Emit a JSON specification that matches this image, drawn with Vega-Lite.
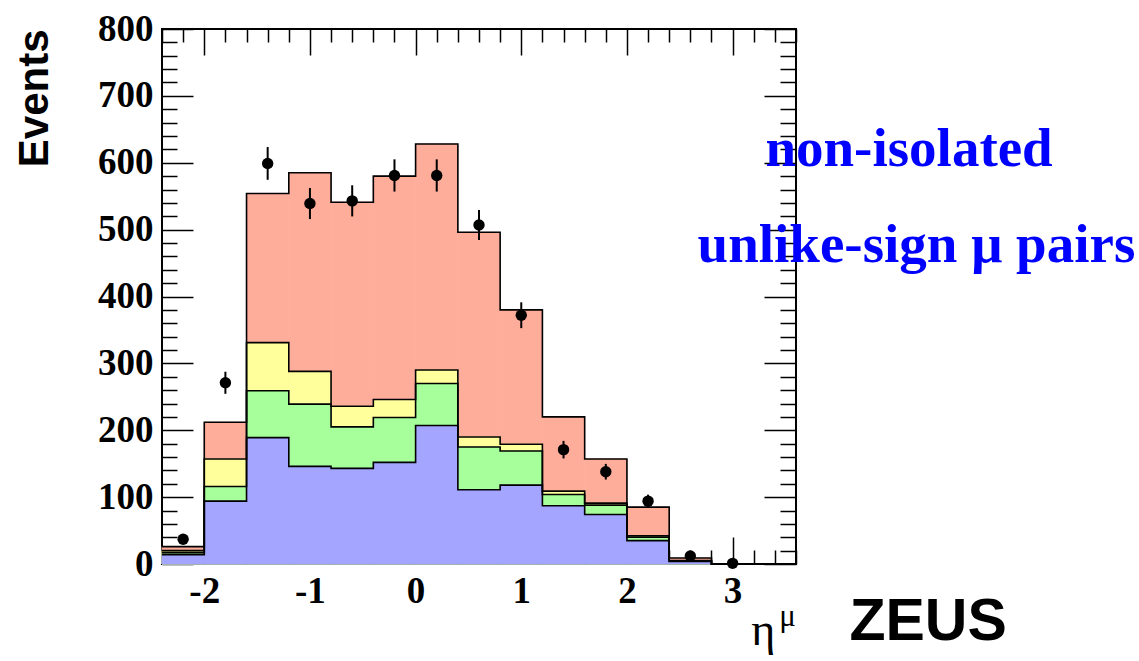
{
  "$schema": "https://vega.github.io/schema/vega-lite/v6.json",
  "width": 634,
  "height": 535,
  "autosize": {"type": "none"},
  "padding": {"left": 162, "top": 29, "right": 343, "bottom": 97},
  "background": "white",
  "config": {
    "view": {"stroke": "#000", "strokeWidth": 2},
    "axis": {
      "grid": false,
      "domain": false,
      "tickColor": "#000",
      "tickWidth": 1.5,
      "labelFont": "Liberation Serif",
      "labelFontWeight": "bold",
      "labelFontSize": 37,
      "labelColor": "#000",
      "labelOverlap": false,
      "labelFlush": false,
      "labelBound": false
    }
  },
  "datasets": {
    "hist": [
      {"comp": "other", "lo": -2.4, "hi": -2.0, "top": 26},
      {"comp": "other", "lo": -2.0, "hi": -1.6, "top": 212},
      {"comp": "other", "lo": -1.6, "hi": -1.2, "top": 554},
      {"comp": "other", "lo": -1.2, "hi": -0.8, "top": 585},
      {"comp": "other", "lo": -0.8, "hi": -0.4, "top": 541},
      {"comp": "other", "lo": -0.4, "hi": 0.0, "top": 580},
      {"comp": "other", "lo": 0.0, "hi": 0.4, "top": 628},
      {"comp": "other", "lo": 0.4, "hi": 0.8, "top": 496},
      {"comp": "other", "lo": 0.8, "hi": 1.2, "top": 380},
      {"comp": "other", "lo": 1.2, "hi": 1.6, "top": 220},
      {"comp": "other", "lo": 1.6, "hi": 2.0, "top": 157},
      {"comp": "other", "lo": 2.0, "hi": 2.4, "top": 85},
      {"comp": "other", "lo": 2.4, "hi": 2.8, "top": 9},
      {"comp": "other", "lo": 2.8, "hi": 3.2, "top": 0},
      {"comp": "other", "lo": 3.2, "hi": 3.6, "top": 0},
      {"comp": "other", "lo": 3.6, "hi": 3.6, "top": 0},
      {"comp": "c2", "lo": -2.4, "hi": -2.0, "top": 20},
      {"comp": "c2", "lo": -2.0, "hi": -1.6, "top": 157},
      {"comp": "c2", "lo": -1.6, "hi": -1.2, "top": 331},
      {"comp": "c2", "lo": -1.2, "hi": -0.8, "top": 288},
      {"comp": "c2", "lo": -0.8, "hi": -0.4, "top": 236},
      {"comp": "c2", "lo": -0.4, "hi": 0.0, "top": 246},
      {"comp": "c2", "lo": 0.0, "hi": 0.4, "top": 290},
      {"comp": "c2", "lo": 0.4, "hi": 0.8, "top": 190},
      {"comp": "c2", "lo": 0.8, "hi": 1.2, "top": 179},
      {"comp": "c2", "lo": 1.2, "hi": 1.6, "top": 109},
      {"comp": "c2", "lo": 1.6, "hi": 2.0, "top": 91},
      {"comp": "c2", "lo": 2.0, "hi": 2.4, "top": 42},
      {"comp": "c2", "lo": 2.4, "hi": 2.8, "top": 5},
      {"comp": "c2", "lo": 2.8, "hi": 3.2, "top": 0},
      {"comp": "c2", "lo": 3.2, "hi": 3.6, "top": 0},
      {"comp": "c2", "lo": 3.6, "hi": 3.6, "top": 0},
      {"comp": "c3", "lo": -2.4, "hi": -2.0, "top": 17},
      {"comp": "c3", "lo": -2.0, "hi": -1.6, "top": 116},
      {"comp": "c3", "lo": -1.6, "hi": -1.2, "top": 259},
      {"comp": "c3", "lo": -1.2, "hi": -0.8, "top": 239},
      {"comp": "c3", "lo": -0.8, "hi": -0.4, "top": 205},
      {"comp": "c3", "lo": -0.4, "hi": 0.0, "top": 219},
      {"comp": "c3", "lo": 0.0, "hi": 0.4, "top": 270},
      {"comp": "c3", "lo": 0.4, "hi": 0.8, "top": 175},
      {"comp": "c3", "lo": 0.8, "hi": 1.2, "top": 169},
      {"comp": "c3", "lo": 1.2, "hi": 1.6, "top": 104},
      {"comp": "c3", "lo": 1.6, "hi": 2.0, "top": 88},
      {"comp": "c3", "lo": 2.0, "hi": 2.4, "top": 40},
      {"comp": "c3", "lo": 2.4, "hi": 2.8, "top": 4.5},
      {"comp": "c3", "lo": 2.8, "hi": 3.2, "top": 0},
      {"comp": "c3", "lo": 3.2, "hi": 3.6, "top": 0},
      {"comp": "c3", "lo": 3.6, "hi": 3.6, "top": 0},
      {"comp": "c4", "lo": -2.4, "hi": -2.0, "top": 14},
      {"comp": "c4", "lo": -2.0, "hi": -1.6, "top": 94},
      {"comp": "c4", "lo": -1.6, "hi": -1.2, "top": 189},
      {"comp": "c4", "lo": -1.2, "hi": -0.8, "top": 146},
      {"comp": "c4", "lo": -0.8, "hi": -0.4, "top": 143},
      {"comp": "c4", "lo": -0.4, "hi": 0.0, "top": 152},
      {"comp": "c4", "lo": 0.0, "hi": 0.4, "top": 207},
      {"comp": "c4", "lo": 0.4, "hi": 0.8, "top": 111},
      {"comp": "c4", "lo": 0.8, "hi": 1.2, "top": 118},
      {"comp": "c4", "lo": 1.2, "hi": 1.6, "top": 87},
      {"comp": "c4", "lo": 1.6, "hi": 2.0, "top": 74},
      {"comp": "c4", "lo": 2.0, "hi": 2.4, "top": 35},
      {"comp": "c4", "lo": 2.4, "hi": 2.8, "top": 4},
      {"comp": "c4", "lo": 2.8, "hi": 3.2, "top": 0},
      {"comp": "c4", "lo": 3.2, "hi": 3.6, "top": 0},
      {"comp": "c4", "lo": 3.6, "hi": 3.6, "top": 0}
    ],
    "points": [
      {"eta": -2.2, "n": 37, "lo": 31, "hi": 43},
      {"eta": -1.8, "n": 271, "lo": 254.5, "hi": 287.5},
      {"eta": -1.4, "n": 599, "lo": 574.5, "hi": 623.5},
      {"eta": -1.0, "n": 539, "lo": 515.8, "hi": 562.2},
      {"eta": -0.6, "n": 543, "lo": 519.7, "hi": 566.3},
      {"eta": -0.2, "n": 581, "lo": 556.9, "hi": 605.1},
      {"eta": 0.2, "n": 581, "lo": 556.9, "hi": 605.1},
      {"eta": 0.6, "n": 507, "lo": 484.5, "hi": 529.5},
      {"eta": 1.0, "n": 372, "lo": 352.7, "hi": 391.3},
      {"eta": 1.4, "n": 171, "lo": 157.9, "hi": 184.1},
      {"eta": 1.8, "n": 138, "lo": 126.3, "hi": 149.7},
      {"eta": 2.2, "n": 94, "lo": 84.3, "hi": 103.7},
      {"eta": 2.6, "n": 12, "lo": 8.5, "hi": 15.5},
      {"eta": 3.0, "n": 1, "lo": 0, "hi": 2}
    ],
    "blueText": [
      {"label": "non-isolated", "ex": 4.67, "ey": 595},
      {"label": "unlike-sign μ pairs", "ex": 4.74, "ey": 452}
    ],
    "zeus": [
      {"label": "ZEUS", "ex": 4.85, "ey": -114}
    ],
    "etaTitle": [
      {"label": "η", "ex": 3.29, "ey": -121}
    ],
    "etaSup": [
      {"label": "μ", "ex": 3.52, "ey": -92}
    ]
  },
  "layer": [
    {
      "data": {"name": "hist"},
      "mark": {"type": "rect", "strokeWidth": 0.8},
      "encoding": {
        "x": {
          "field": "lo", "type": "quantitative",
          "scale": {"domain": [-2.4, 3.6], "nice": false, "zero": false},
          "axis": {
            "orient": "bottom",
            "title": null,
            "values": [-2.4, -2.2, -2.0, -1.8, -1.6, -1.4, -1.2, -1.0, -0.8, -0.6, -0.4, -0.2, 0, 0.2, 0.4, 0.6, 0.8, 1.0, 1.2, 1.4, 1.6, 1.8, 2.0, 2.2, 2.4, 2.6, 2.8, 3.0, 3.2, 3.4, 3.6],
            "tickSize": {"condition": {"test": "abs(datum.value - round(datum.value)) < 0.001", "value": -27}, "value": -14},
            "labelPadding": 36,
            "labelExpr": "abs(datum.value - round(datum.value)) < 0.001 ? '' + round(datum.value) : ''"
          }
        },
        "x2": {"field": "hi"},
        "y": {
          "field": "top", "type": "quantitative",
          "scale": {"domain": [0, 800], "nice": false},
          "axis": {
            "orient": "left",
            "values": [0, 20, 40, 60, 80, 100, 120, 140, 160, 180, 200, 220, 240, 260, 280, 300, 320, 340, 360, 380, 400, 420, 440, 460, 480, 500, 520, 540, 560, 580, 600, 620, 640, 660, 680, 700, 720, 740, 760, 780, 800],
            "tickSize": {"condition": {"test": "datum.value % 100 === 0", "value": -31}, "value": -15},
            "labelPadding": 40,
            "labelExpr": "datum.value % 100 === 0 ? '' + datum.value : ''",
            "title": "Events",
            "titleFont": "Liberation Sans",
            "titleFontWeight": "bold",
            "titleFontSize": 42,
            "titleColor": "#000",
            "titleAngle": -90,
            "titleAlign": "right",
            "titleBaseline": "alphabetic",
            "titleX": -115,
            "titleY": 0
          }
        },
        "y2": {"datum": 0},
        "color": {
          "field": "comp", "type": "nominal",
          "scale": {"domain": ["other", "c2", "c3", "c4"], "range": ["#FFAD9B", "#FFFF9C", "#A6FF9A", "#A3A5FF"]},
          "legend": null
        },
        "stroke": {
          "field": "comp", "type": "nominal",
          "scale": {"domain": ["other", "c2", "c3", "c4"], "range": ["#FFAD9B", "#FFFF9C", "#A6FF9A", "#A3A5FF"]},
          "legend": null
        }
      }
    },
    {
      "data": {"name": "hist"},
      "mark": {"type": "line", "interpolate": "step-after", "color": "#000", "strokeWidth": 1.6},
      "encoding": {
        "x": {
          "field": "lo", "type": "quantitative",
          "scale": {"domain": [-2.4, 3.6], "nice": false, "zero": false},
          "axis": {
            "orient": "top",
            "title": null,
            "labels": false,
            "values": [-2.4, -2.2, -2.0, -1.8, -1.6, -1.4, -1.2, -1.0, -0.8, -0.6, -0.4, -0.2, 0, 0.2, 0.4, 0.6, 0.8, 1.0, 1.2, 1.4, 1.6, 1.8, 2.0, 2.2, 2.4, 2.6, 2.8, 3.0, 3.2, 3.4, 3.6],
            "tickSize": {"condition": {"test": "abs(datum.value - round(datum.value)) < 0.001", "value": -26}, "value": -13}
          }
        },
        "y": {
          "field": "top", "type": "quantitative",
          "scale": {"domain": [0, 800], "nice": false},
          "axis": {
            "orient": "right",
            "title": null,
            "labels": false,
            "values": [0, 20, 40, 60, 80, 100, 120, 140, 160, 180, 200, 220, 240, 260, 280, 300, 320, 340, 360, 380, 400, 420, 440, 460, 480, 500, 520, 540, 560, 580, 600, 620, 640, 660, 680, 700, 720, 740, 760, 780, 800],
            "tickSize": {"condition": {"test": "datum.value % 100 === 0", "value": -32}, "value": -16}
          }
        },
        "detail": {"field": "comp"}
      }
    },
    {
      "data": {"name": "points"},
      "mark": {"type": "rule", "color": "#000", "strokeWidth": 2},
      "encoding": {
        "x": {"field": "eta", "type": "quantitative", "axis": null},
        "y": {"field": "lo", "type": "quantitative", "axis": null},
        "y2": {"field": "hi"}
      }
    },
    {
      "data": {"name": "points"},
      "mark": {"type": "circle", "color": "#000", "opacity": 1, "size": 130},
      "encoding": {
        "x": {"field": "eta", "type": "quantitative", "axis": null},
        "y": {"field": "n", "type": "quantitative", "axis": null}
      }
    },
    {
      "data": {"name": "blueText"},
      "mark": {"type": "text", "font": "Liberation Serif", "fontWeight": "bold", "fontSize": 55, "color": "#0000FF", "align": "center", "baseline": "alphabetic", "clip": false},
      "encoding": {
        "x": {"field": "ex", "type": "quantitative", "axis": null},
        "y": {"field": "ey", "type": "quantitative", "axis": null},
        "text": {"field": "label"}
      }
    },
    {
      "data": {"name": "zeus"},
      "mark": {"type": "text", "font": "Liberation Sans", "fontWeight": "bold", "fontSize": 59, "color": "#000", "align": "center", "baseline": "alphabetic", "clip": false},
      "encoding": {
        "x": {"field": "ex", "type": "quantitative", "axis": null},
        "y": {"field": "ey", "type": "quantitative", "axis": null},
        "text": {"field": "label"}
      }
    },
    {
      "data": {"name": "etaTitle"},
      "mark": {"type": "text", "font": "Liberation Serif", "fontSize": 46, "color": "#000", "align": "center", "baseline": "alphabetic", "clip": false},
      "encoding": {
        "x": {"field": "ex", "type": "quantitative", "axis": null},
        "y": {"field": "ey", "type": "quantitative", "axis": null},
        "text": {"field": "label"}
      }
    },
    {
      "data": {"name": "etaSup"},
      "mark": {"type": "text", "font": "Liberation Serif", "fontSize": 31, "color": "#000", "align": "center", "baseline": "alphabetic", "clip": false},
      "encoding": {
        "x": {"field": "ex", "type": "quantitative", "axis": null},
        "y": {"field": "ey", "type": "quantitative", "axis": null},
        "text": {"field": "label"}
      }
    }
  ],
  "resolve": {"axis": {"x": "independent", "y": "independent"}}
}
